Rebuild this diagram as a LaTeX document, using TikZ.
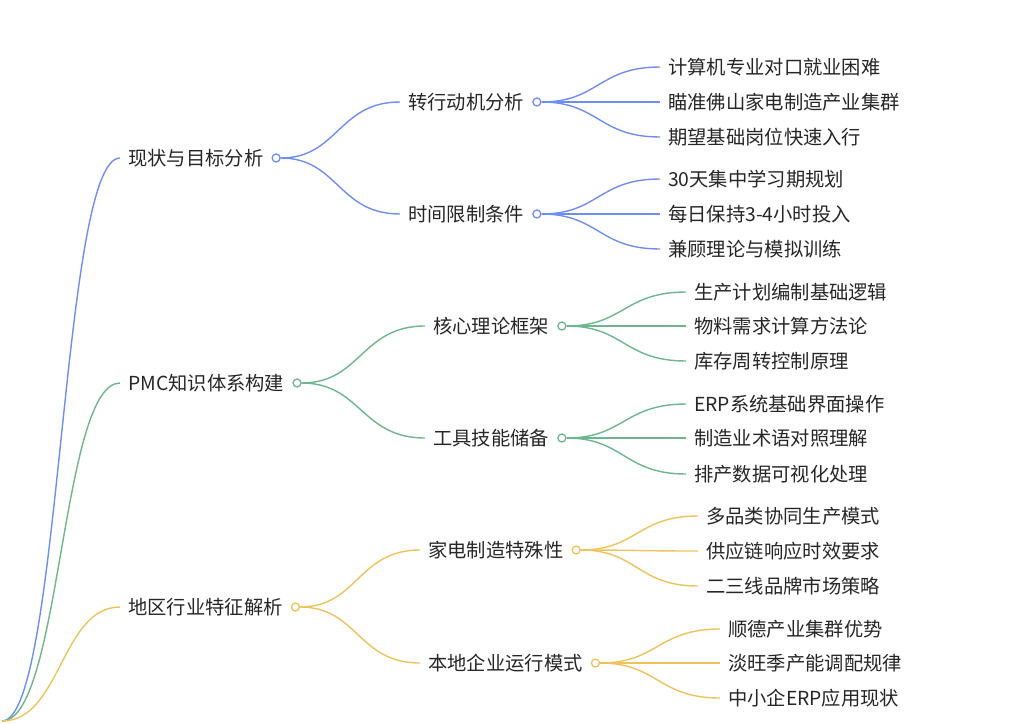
\documentclass[tikz,border=0pt]{standalone}
\usepackage{fontspec}
\newfontfamily\cjk{Noto Sans CJK SC}
\usepackage{tikz}
\usetikzlibrary{positioning, calc}
\definecolor{blueline}{HTML}{6F8FEF}
\definecolor{greenline}{HTML}{6DB68E}
\definecolor{yellowline}{HTML}{EFC35C}
\tikzset{
  txt/.style={anchor=west, inner xsep=8pt, inner ysep=2pt, font=\cjk\fontsize{19.3}{21}\selectfont, text=black!85},
  knob/.style={circle, draw=#1, line width=1.3pt, fill=white, minimum size=8pt, inner sep=0pt},
  link/.style={draw=#1, line width=1.4pt, to path={let \p1=(\tikztostart), \p2=(\tikztotarget) in
      .. controls ({(\x1+\x2)/2}, \y1) and ({(\x1+\x2)/2}, \y2) .. (\tikztotarget)}},
}

\begin{document}
\begin{tikzpicture}[x=1pt, y=-1pt]
    \useasboundingbox (0, 0) rectangle (1024, 723);
    \coordinate (root) at (2, 721);

    % level one
    \node [txt] (a) at (120, 158) {现状与目标分析};
    \node [txt] (b) at (120, 383) {PMC知识体系构建};
    \node [txt] (c) at (120, 607) {地区行业特征解析};
    \node [knob=blueline, right=0pt of a] (ak) {};
    \node [knob=greenline, right=0pt of b] (bk) {};
    \node [knob=yellowline, right=0pt of c] (ck) {};

    % level two
    \node [txt] (a1) at (400, 102) {转行动机分析};
    \node [txt] (a2) at (400, 214) {时间限制条件};
    \node [txt] (b1) at (425, 326) {核心理论框架};
    \node [txt] (b2) at (425, 438) {工具技能储备};
    \node [txt] (c1) at (420, 550) {家电制造特殊性};
    \node [txt] (c2) at (420, 663) {本地企业运行模式};
    \foreach \n/\col in {a1/blueline, a2/blueline, b1/greenline, b2/greenline, c1/yellowline, c2/yellowline}
        \node [knob=\col, right=0pt of \n] (\n k) {};

    % level three
    \node [txt] (a11) at (660, 67) {计算机专业对口就业困难};
    \node [txt] (a12) at (660, 102) {瞄准佛山家电制造产业集群};
    \node [txt] (a13) at (660, 137) {期望基础岗位快速入行};
    \node [txt] (a21) at (660, 179) {30天集中学习期规划};
    \node [txt] (a22) at (660, 214) {每日保持3-4小时投入};
    \node [txt] (a23) at (660, 249) {兼顾理论与模拟训练};
    \node [txt] (b11) at (686, 292) {生产计划编制基础逻辑};
    \node [txt] (b12) at (686, 326) {物料需求计算方法论};
    \node [txt] (b13) at (686, 361) {库存周转控制原理};
    \node [txt] (b21) at (686, 404) {ERP系统基础界面操作};
    \node [txt] (b22) at (686, 438) {制造业术语对照理解};
    \node [txt] (b23) at (686, 474) {排产数据可视化处理};
    \node [txt] (c11) at (698, 516) {多品类协同生产模式};
    \node [txt] (c12) at (698, 551) {供应链响应时效要求};
    \node [txt] (c13) at (698, 586) {二三线品牌市场策略};
    \node [txt] (c21) at (720, 629) {顺德产业集群优势};
    \node [txt] (c22) at (720, 663) {淡旺季产能调配规律};
    \node [txt] (c23) at (720, 698) {中小企ERP应用现状};

    % connectors
    \draw [link=blueline] (root) to (a.west);
    \draw [link=greenline] (root) to (b.west);
    \draw [link=yellowline] (root) to (c.west);
    \draw [link=blueline] (ak) to (a1.west);
    \draw [link=blueline] (ak) to (a2.west);
    \draw [link=greenline] (bk) to (b1.west);
    \draw [link=greenline] (bk) to (b2.west);
    \draw [link=yellowline] (ck) to (c1.west);
    \draw [link=yellowline] (ck) to (c2.west);
    \foreach \q/\col in {a1/blueline, a2/blueline, b1/greenline, b2/greenline, c1/yellowline, c2/yellowline}
        \foreach \j in {1, 2, 3}
            \draw [link=\col] (\q k) to (\q\j.west);
\end{tikzpicture}
\end{document}
